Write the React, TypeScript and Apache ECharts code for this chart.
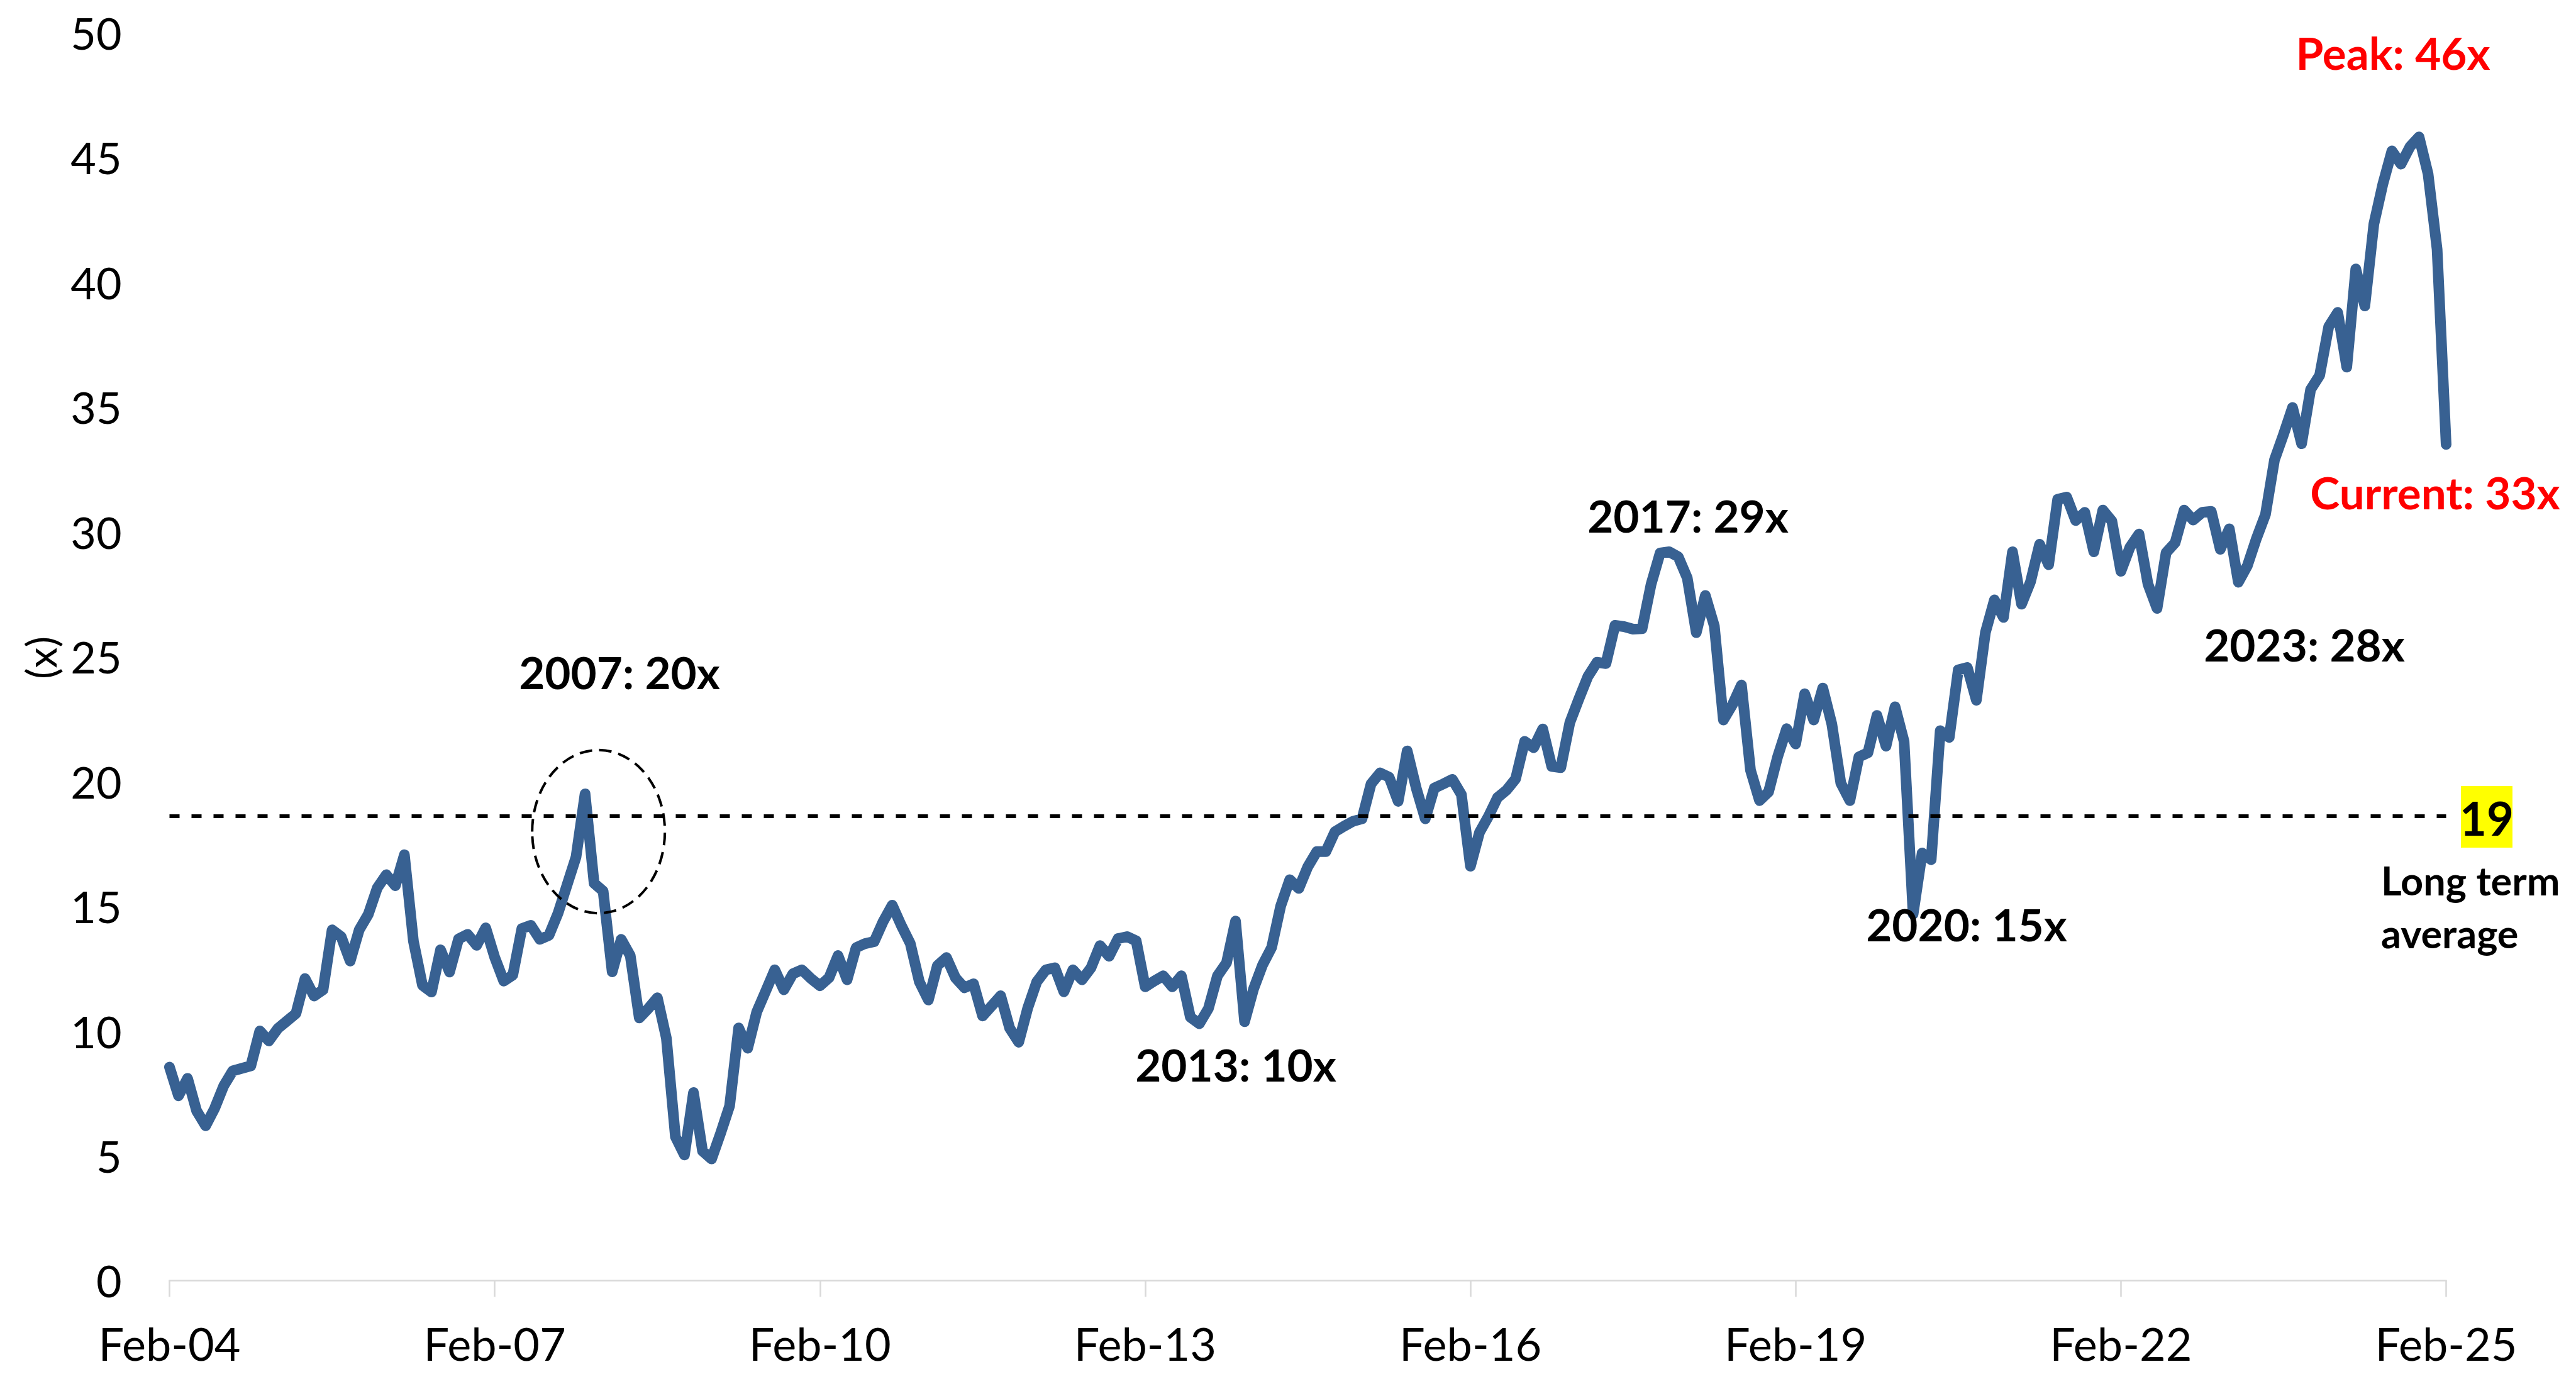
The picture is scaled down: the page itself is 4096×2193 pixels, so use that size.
import React, { useEffect, useRef } from "react";
import * as echarts from "echarts";

// ---- Data (monthly forward P/E, Feb-2004 .. Feb-2025) ----
const MONTH_NAMES = ["Jan", "Feb", "Mar", "Apr", "May", "Jun", "Jul", "Aug", "Sep", "Oct", "Nov", "Dec"];
const months: string[] = [];
for (let k = 0; k <= 252; k++) {
  const m = (1 + k) % 12;
  const y = 2004 + Math.floor((1 + k) / 12);
  months.push(`${MONTH_NAMES[m]}-${String(y).slice(2)}`);
}

const pe2004to2006 = [
  8.55, 7.4, 8.1, 6.8, 6.2, 6.9, 7.8, 8.4, 8.5, 8.6, 10.0, 9.6,
  10.1, 10.4, 10.7, 12.1, 11.4, 11.65, 14.05, 13.78, 12.8, 14.05, 14.67, 15.73,
  16.26, 15.82, 17.06, 13.6, 11.83, 11.56, 13.25, 12.36, 13.69, 13.87, 13.43, 14.13,
];
const pe2007to2009 = [
  12.95, 12.0, 12.24, 14.1, 14.23, 13.67, 13.83, 14.71, 15.84, 16.97, 19.5, 15.92,
  15.6, 12.37, 13.67, 13.02, 10.52, 10.9, 11.33, 9.71, 5.76, 5.03, 7.53, 5.19,
  4.87, 5.9, 7.0, 10.12, 9.31, 10.76, 11.6, 12.45, 11.65, 12.29, 12.45, 12.1,
];
const pe2010to2012 = [
  11.81, 12.13, 13.02, 12.05, 13.34, 13.5, 13.58, 14.39, 15.04, 14.23, 13.5, 11.97,
  11.24, 12.62, 12.94, 12.13, 11.73, 11.89, 10.6, 11.0, 11.41, 10.11, 9.55, 10.92,
  11.97, 12.45, 12.53, 11.57, 12.45, 12.05, 12.53, 13.42, 12.99, 13.7, 13.78, 13.61,
];
const pe2013to2015 = [
  11.77, 12.0, 12.21, 11.77, 12.21, 10.55, 10.29, 10.9, 12.21, 12.73, 14.4, 10.37,
  11.69, 12.65, 13.35, 15.01, 16.06, 15.71, 16.58, 17.19, 17.19, 17.98, 18.2, 18.4,
  18.5, 19.9, 20.34, 20.17, 19.2, 21.22, 19.73, 18.5, 19.73, 19.9, 20.08, 19.47,
];
const pe2016to2018 = [
  16.6, 17.95, 18.6, 19.35, 19.65, 20.1, 21.6, 21.35, 22.1, 20.6, 20.55, 22.35,
  23.3, 24.2, 24.77, 24.72, 26.25, 26.2, 26.1, 26.12, 27.9, 29.15, 29.2, 29.0,
  28.15, 25.96, 27.45, 26.22, 22.46, 23.07, 23.86, 20.45, 19.23, 19.58, 20.98, 22.11,
];
const pe2019to2021 = [
  21.5, 23.51, 22.46, 23.74, 22.3, 19.93, 19.23, 20.98, 21.15, 22.64, 21.41, 22.99,
  21.6, 14.68, 17.13, 16.86, 22.03, 21.76, 24.47, 24.56, 23.25, 25.96, 27.27, 26.57,
  29.2, 27.1, 28.0, 29.5, 28.68, 31.3, 31.39, 30.45, 30.78, 29.2, 30.87, 30.43,
];
const pe2022to2025 = [
  28.42, 29.38, 29.91, 27.9, 26.93, 29.16, 29.56, 30.87, 30.47, 30.78, 30.82, 29.3,
  30.12, 27.98, 28.64, 29.73, 30.69, 32.88, 33.9, 34.98, 33.53, 35.7, 36.27, 38.22,
  38.79, 36.6, 40.53, 39.05, 42.33, 43.94, 45.26, 44.73, 45.43, 45.82, 44.34, 41.32,
  33.5,
];
const peValues = [
  ...pe2004to2006, ...pe2007to2009, ...pe2010to2012, ...pe2013to2015,
  ...pe2016to2018, ...pe2019to2021, ...pe2022to2025,
];
const longTermAverage = 18.6;
const yTicks = { min: 0, max: 50, step: 5 };

const FONT = "Lato, 'Open Sans', sans-serif";

export default function App() {
  const ref = useRef<HTMLDivElement>(null);

  useEffect(() => {
    if (!ref.current) return;
    const chart = echarts.init(ref.current, undefined, { renderer: "svg" });

    const boldText = (text: string, x: number, y: number, color = "#000", size = 71, align = "center") => ({
      type: "text",
      x,
      y,
      z: 100,
      style: {
        text,
        fill: color,
        fontSize: size,
        fontWeight: "bold",
        fontFamily: FONT,
        align,
        verticalAlign: "middle",
      },
    });

    const option: any = {
      animation: false,
      backgroundColor: "#ffffff",
      grid: { left: 269.5, right: 206.5, top: 51.9, bottom: 156.6, containLabel: false },
      xAxis: {
        type: "category",
        data: months,
        boundaryGap: false,
        axisLine: { show: true, lineStyle: { color: "#D9D9D9", width: 2.5 } },
        axisTick: { show: true, interval: 35, length: 26, lineStyle: { color: "#D9D9D9", width: 2.5 } },
        axisLabel: { interval: 35, fontSize: 72, color: "#000", fontFamily: FONT, margin: 64 },
        splitLine: { show: false },
      },
      yAxis: {
        type: "value",
        min: yTicks.min,
        max: yTicks.max,
        interval: yTicks.step,
        axisLine: { show: false },
        axisTick: { show: false },
        splitLine: { show: false },
        axisLabel: { fontSize: 70, color: "#000", fontFamily: FONT, margin: 76 },
      },
      series: [
        {
          type: "line",
          data: peValues,
          showSymbol: false,
          symbol: "none",
          lineStyle: { color: "#386192", width: 17, join: "round", cap: "round" },
          itemStyle: { color: "#386192" },
          markLine: {
            silent: true,
            symbol: ["none", "none"],
            label: { show: false },
            lineStyle: { color: "#000", width: 6, type: [16, 19] },
            data: [{ yAxis: longTermAverage }],
          },
        },
      ],
      graphic: [
        {
          type: "text",
          x: 64,
          y: 1046,
          rotation: Math.PI / 2,
          z: 100,
          style: {
            text: "(x)",
            fill: "#000",
            fontSize: 66,
            fontFamily: FONT,
            align: "center",
            verticalAlign: "middle",
          },
        },
        {
          type: "ellipse",
          z: 100,
          shape: { cx: 951.7, cy: 1322.5, rx: 105.5, ry: 129.7 },
          style: { fill: null, stroke: "#000", lineWidth: 4, lineDash: [20, 11] },
        },
        boldText("2007: 20x", 985, 1068),
        boldText("2013: 10x", 1965, 1692),
        boldText("2017: 29x", 2684, 819),
        boldText("2020: 15x", 3127, 1469),
        boldText("2023: 28x", 3664, 1024),
        boldText("Peak: 46x", 3805, 83, "#FF0000"),
        boldText("Current: 33x", 3872, 782, "#FF0000"),
        {
          type: "rect",
          z: 99,
          shape: { x: 3913, y: 1250, width: 82, height: 98 },
          style: { fill: "#FFFF00" },
        },
        boldText("19", 3954, 1300, "#000", 74),
        boldText("Long term", 3786, 1399, "#000", 63, "left"),
        boldText("average", 3786, 1483, "#000", 63, "left"),
      ],
    };

    chart.setOption(option);
    return () => chart.dispose();
  }, []);

  return (
    <div
      ref={ref}
      style={{ position: "fixed", left: 0, top: 0, width: 4096, height: 2193, background: "#fff" }}
    />
  );
}
